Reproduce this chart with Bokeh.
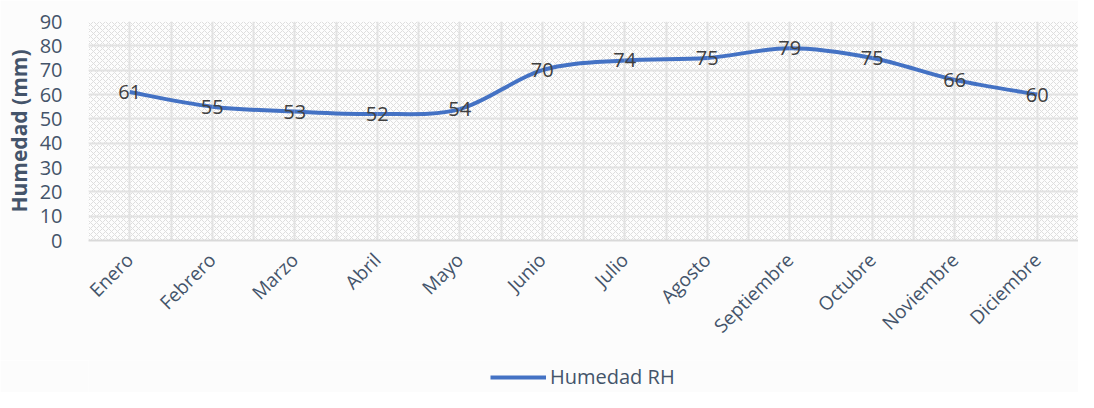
from bokeh.plotting import figure
from bokeh.layouts import column
from bokeh.models import (ColumnDataSource, FixedTicker, Grid, BoxAnnotation, Legend, LegendItem, Range1d)
from bokeh.core.properties import value
from bokeh.embed import file_html
from bokeh.resources import INLINE
import math

months = ["Enero", "Febrero", "Marzo", "Abril", "Mayo", "Junio", "Julio", "Agosto",
          "Septiembre", "Octubre", "Noviembre", "Diciembre"]
humedad = [61, 55, 53, 52, 54, 70, 74, 75, 79, 75, 66, 60]
y_ticks = [0, 10, 20, 30, 40, 50, 60, 70, 80, 90]
series_name = "Humedad RH"

FONT = "Open Sans"
TXT = "#44546a"
BG = "#fcfcfc"
LINE = "#4472c4"

xs = list(range(len(months)))

p = figure(width=1078, height=360, output_backend="svg", toolbar_location=None,
           x_range=Range1d(-0.5, len(months) - 0.5), y_range=Range1d(0, 90),
           min_border_left=88, min_border_right=0, min_border_top=21, min_border_bottom=120)
p.background_fill_color = BG
p.border_fill_color = BG
p.outline_line_color = None

# hatched plot area
p.add_layout(BoxAnnotation(left=-0.5, right=len(months) - 0.5, bottom=0, top=90,
                           fill_color="#fdfdfd", fill_alpha=1, line_color=None,
                           hatch_pattern="diagonal_cross", hatch_color="#dedede",
                           hatch_scale=6, hatch_weight=1, level="image"))

# grids
p.xgrid.visible = False
p.ygrid.ticker = FixedTicker(ticks=y_ticks)
p.ygrid.grid_line_color = "#e2e2e2"
p.ygrid.grid_line_width = 2
half = [i * 0.5 - 0.5 for i in range(2 * len(months) + 1)]
p.add_layout(Grid(dimension=0, ticker=FixedTicker(ticks=half), grid_line_color="#e2e2e2",
                  grid_line_width=2))

# smoothed line via bezier segments computed from data
x0, y0, x1, y1, cx0, cy0, cx1, cy1 = [], [], [], [], [], [], [], []
n = len(humedad)
for i in range(n - 1):
    pm = (xs[max(i - 1, 0)], humedad[max(i - 1, 0)])
    pa = (xs[i], humedad[i])
    pb = (xs[i + 1], humedad[i + 1])
    pn = (xs[min(i + 2, n - 1)], humedad[min(i + 2, n - 1)])
    x0.append(pa[0]); y0.append(pa[1]); x1.append(pb[0]); y1.append(pb[1])
    cx0.append(pa[0] + (pb[0] - pm[0]) / 6); cy0.append(pa[1] + (pb[1] - pm[1]) / 6)
    cx1.append(pb[0] - (pn[0] - pa[0]) / 6); cy1.append(pb[1] - (pn[1] - pa[1]) / 6)
bsrc = ColumnDataSource(dict(x0=x0, y0=y0, x1=x1, y1=y1, cx0=cx0, cy0=cy0, cx1=cx1, cy1=cy1))
p.bezier(x0="x0", y0="y0", x1="x1", y1="y1", cx0="cx0", cy0="cy0", cx1="cx1", cy1="cy1",
         source=bsrc, line_color=LINE, line_width=4)

# data labels
src = ColumnDataSource(dict(x=xs, y=humedad, t=[str(v) for v in humedad]))
p.text(x="x", y="y", text="t", source=src, text_align="center", text_baseline="middle",
       text_font=value(FONT), text_font_size="20px", text_color="#404040")

# axes
p.xaxis.ticker = FixedTicker(ticks=xs)
p.xaxis.major_label_overrides = {i: m for i, m in enumerate(months)}
p.xaxis.major_label_orientation = math.pi / 4
p.xaxis.major_label_text_font = FONT
p.xaxis.major_label_text_font_size = "19px"
p.xaxis.major_label_text_color = TXT
p.xaxis.major_tick_line_color = None
p.xaxis.minor_tick_line_color = None
p.xaxis.axis_line_color = "#d9d9d9"
p.xaxis.axis_line_width = 2
p.xaxis.major_label_standoff = 10

p.yaxis.ticker = FixedTicker(ticks=y_ticks)
p.yaxis.major_label_text_font = FONT
p.yaxis.major_label_text_font_size = "20px"
p.yaxis.major_label_text_color = TXT
p.yaxis.major_tick_line_color = None
p.yaxis.minor_tick_line_color = None
p.yaxis.axis_line_color = None
p.yaxis.major_label_standoff = 20
p.yaxis.axis_label = "Humedad (mm)"
p.yaxis.axis_label_text_font = FONT
p.yaxis.axis_label_text_font_size = "21px"
p.yaxis.axis_label_text_font_style = "bold"
p.yaxis.axis_label_text_color = TXT
p.yaxis.axis_label_standoff = 4

# legend strip (series line drawn in a strip whose ranges keep it out of view; only its legend swatch shows)
q = figure(width=1078, height=32, output_backend="svg", toolbar_location=None,
           x_range=Range1d(100, 101), y_range=Range1d(0, 1),
           min_border=0, x_axis_location=None, y_axis_location=None)
q.background_fill_color = BG
q.border_fill_color = BG
q.outline_line_color = None
q.grid.visible = False
leg_r = q.line(x="x", y="y", source=src, line_color=LINE, line_width=4)
legend = Legend(items=[LegendItem(label=series_name, renderers=[leg_r])],
                orientation="horizontal", location=(402, 2),
                label_text_font=FONT, label_text_font_size="20px", label_text_color=TXT,
                border_line_color=None, background_fill_alpha=0, glyph_width=56,
                label_standoff=4, margin=0, padding=0)
q.add_layout(legend, "center")

layout = column(p, q, spacing=0)
open("out.html", "w").write(file_html(layout, INLINE))
